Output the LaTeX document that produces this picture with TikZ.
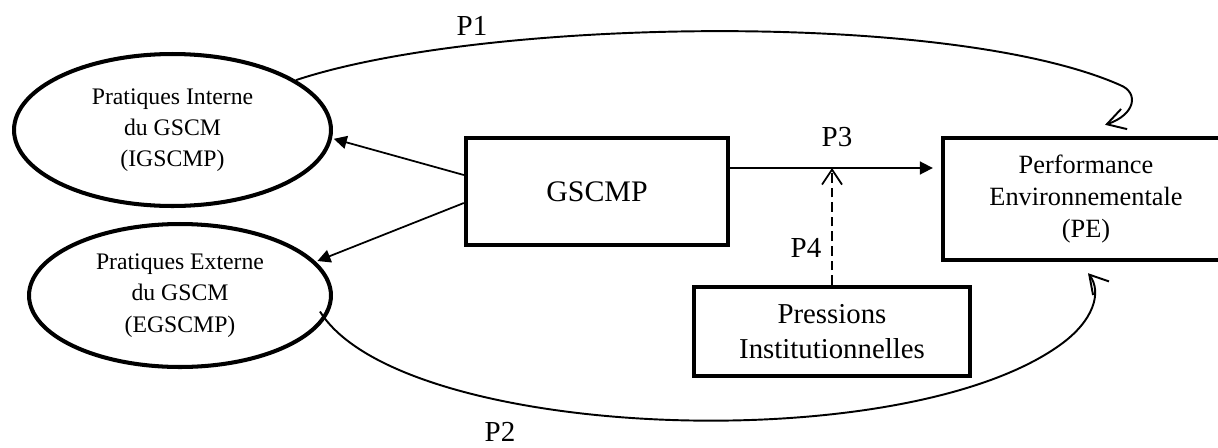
\documentclass[tikz,border=0pt]{standalone}
\usepackage{fontspec}
\setmainfont{Liberation Serif}
\usetikzlibrary{shapes.geometric,arrows.meta,bending}

\begin{document}
\begin{tikzpicture}[x=0.02cm,y=-0.02cm]
\tikzstyle{oval}=[ellipse, draw, line width=2.3pt, inner sep=0pt, align=center, font=\fontsize{13.5}{17.8}\selectfont]
\tikzstyle{box}=[rectangle, draw, line width=2.5pt, inner sep=0pt, align=center]
\tikzstyle{connect}=[-{Triangle[length=2.6mm,width=2.6mm]}, line width=1pt]
\tikzstyle{curved}=[-{Straight Barb[length=3.6mm,width=4.2mm,flex]}, line width=1.1pt]
\tikzstyle{plab}=[font=\fontsize{16.5}{20}\selectfont]
\useasboundingbox (0,0) rectangle (1218,447);
  \node[oval, minimum width=6.34cm, minimum height=3.04cm] (igscmp) at (172.5,130) {Pratiques Interne\\du GSCM\\(IGSCMP)};
  \node[oval, minimum width=6.04cm, minimum height=2.86cm] (egscmp) at (180,295.5) {Pratiques Externe\\du GSCM\\(EGSCMP)};
  \node[box, minimum width=5.24cm, minimum height=2.14cm, font=\fontsize{17}{20}\selectfont] (gscmp) at (597,191.5) {GSCMP};
  \node[box, minimum width=5.72cm, minimum height=2.44cm, font=\fontsize{15}{18}\selectfont] (pe) at (1086,199) {Performance\\Environnementale\\(PE)};
  \node[box, minimum width=5.52cm, minimum height=1.78cm, font=\fontsize{16.4}{19.7}\selectfont] (pi) at (832,331.5) {Pressions\\Institutionnelles};
  % labels
  \node[plab] (p1) at (472,26) {P1};
  \node[plab] (p2) at (500,432) {P2};
  \node[plab] (p3lab) at (837,137) {P3};
  \node[plab] (p4) at (806,248) {P4};
  % links
  \coordinate (p3) at ([shift={(0,-23.5)}]gscmp.east);
  \draw[connect, shorten >=0.16cm] (p3) -- (p3 -| pe.west);
  \draw[connect, shorten >=1pt] ([shift={(0,-16.5)}]gscmp.west) -- (igscmp.-3);
  \draw[connect, shorten >=1pt] ([shift={(0,11.5)}]gscmp.west) -- (egscmp.14);
  \draw[dash pattern=on 5.5pt off 2.8pt, line width=1pt, -{Straight Barb[length=3mm,width=4mm]}] (pi.north) -- (pi.north |- p3);
  \draw[curved] (igscmp.22) .. controls (483,18) and (950,10) .. (1120,85) .. controls (1140,93) and (1135,116) .. ([shift={(19,-11)}]pe.north);
  \draw[curved] ([shift={(-13,16)}]egscmp.east) .. controls (400,440) and (900,460) .. (1060,345) .. controls (1095,320) and (1103,290) .. ([shift={(2,11)}]pe.south);
\end{tikzpicture}
\end{document}
